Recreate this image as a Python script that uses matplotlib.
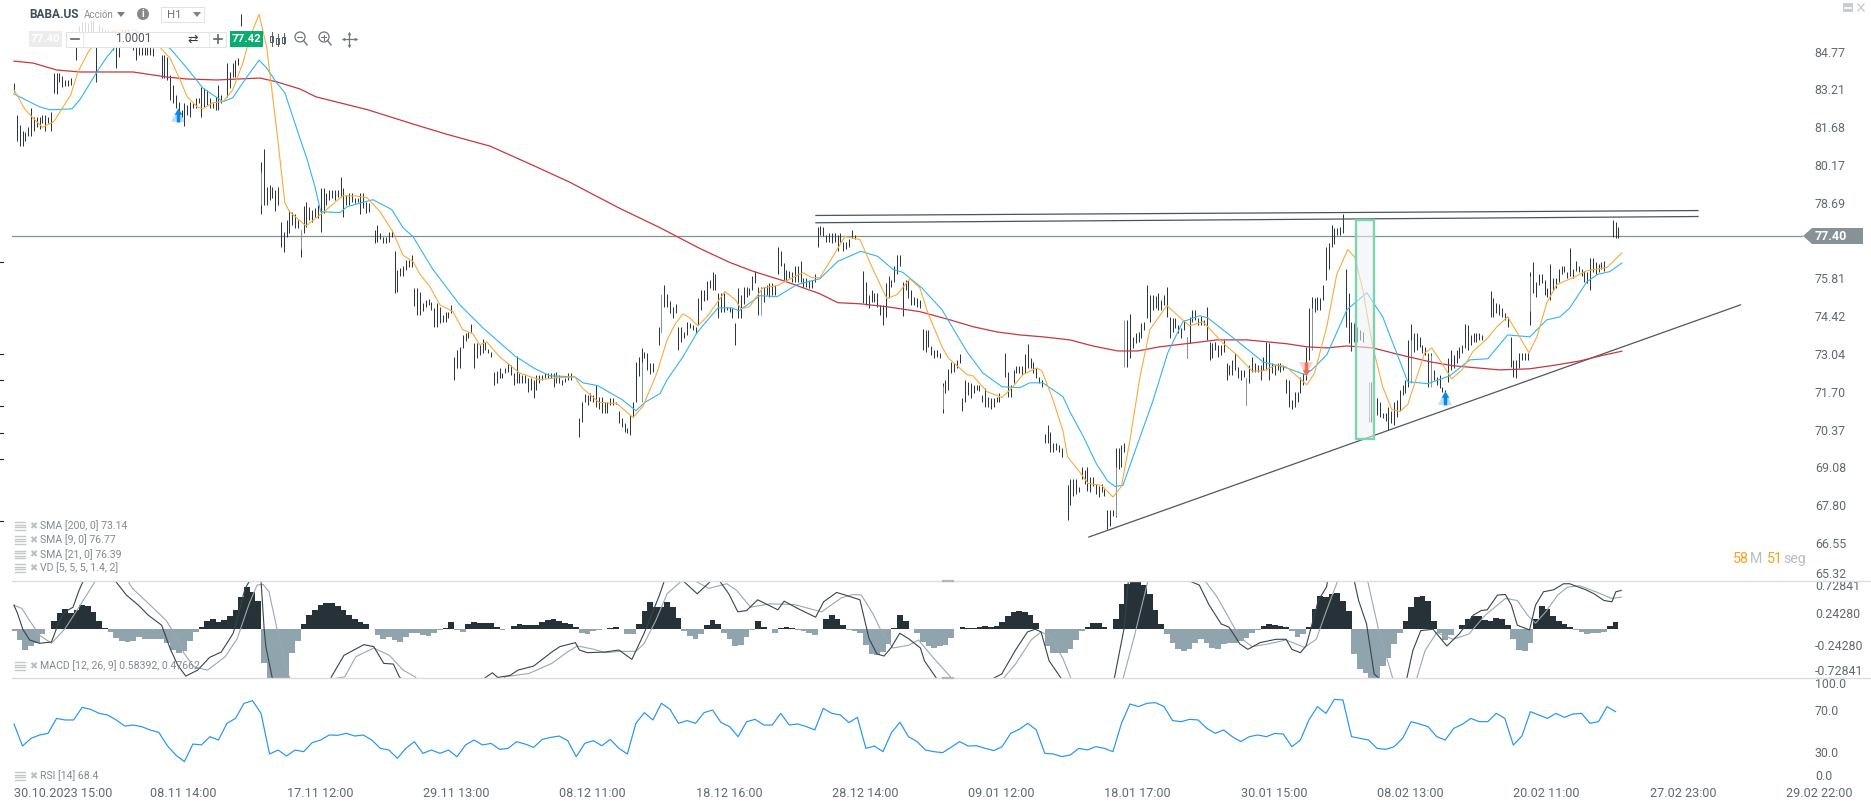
import numpy as np
import matplotlib
matplotlib.use('Agg')
import matplotlib.pyplot as plt
from matplotlib.path import Path
from matplotlib.patches import Rectangle, Polygon, Circle
from matplotlib.ticker import NullLocator

plt.rcParams['font.family'] = ['Roboto', 'DejaVu Sans']

W, H = 1871, 807

# hourly bars, high/low pairs, each block starts at the bar number in bar_starts
bars_a = [83.47,83.11, 82.18,81.11, 81.78,80.92, 81.51,80.92, 81.47,81.11, 81.67,81.31, 82.46,81.31, 82.10,81.51,
          82.10,81.67, 82.10,81.59, 82.18,81.86, 82.18,81.51, 82.10,81.86, 82.30,81.51, 83.88,83.07, 83.88,83.03,
          83.88,83.52, 83.76,83.31, 83.60,83.35, 83.60,83.35, 83.68,83.39]
bars_b = [84.97,84.42, 85.85,85.35, 86.01,85.47, 86.01,85.60, 85.97,85.55, 86.05,85.51, 86.09,85.47, 85.60,83.52,
          85.89,85.26, 85.81,85.35, 85.68,85.18, 85.68,85.01, 85.60,85.01, 85.68,84.84, 85.47,84.09, 85.47,84.55,
          85.68,84.97, 85.68,85.01, 85.68,85.18, 85.55,85.01, 85.47,84.84, 85.47,84.42, 85.05,84.63, 84.97,84.63,
          84.97,84.63, 84.97,84.63, 84.97,84.63, 84.92,84.59]
bars_c = [84.63,83.68, 84.63,83.68, 84.55,83.60, 83.80,82.79, 83.39,82.67, 82.99,82.46, 82.71,82.10, 82.38,82.10,
          82.67,81.71, 82.59,82.18, 82.71,82.10, 82.67,82.46, 82.87,82.46, 82.87,82.67, 83.31,82.10, 83.27,82.50,
          83.19,82.59, 82.87,82.46, 82.67,82.46, 82.91,82.38, 83.39,82.38, 82.99,82.67]
bars_d = [84.30,82.91, 83.93,83.27, 84.30,83.72, 84.42,83.72, 84.50,84.22, 86.35,85.85]
bars_e = [80.28,78.24, 80.80,78.62, 79.32,78.62, 79.40,78.81, 79.32,78.89, 79.20,78.39, 79.32,78.62, 77.96,77.01,
          77.58,76.79, 78.04,77.36, 78.43,77.54, 78.35,77.85, 78.24,77.73, 78.04,77.73, 77.66,76.60, 78.58,77.54,
          78.73,77.77, 78.54,78.04, 78.43,77.96, 78.50,78.15, 78.62,78.11, 79.28,77.58, 79.28,78.31, 79.09,78.62,
          79.20,78.81, 79.20,78.89, 79.20,78.81, 79.20,78.93, 79.71,78.93, 79.28,78.15, 79.00,78.62, 79.09,78.62,
          79.09,78.73, 78.89,78.69, 78.89,78.73, 79.09,78.24, 79.09,78.50, 78.73,78.31, 78.69,78.35]
bars_f = [77.66,77.13, 77.85,77.20, 77.54,77.28, 77.39,77.13, 77.39,77.13, 77.58,77.20, 77.66,77.39]
bars_g = [76.83,75.28, 76.11,75.32, 76.19,75.89, 76.26,75.89, 76.49,76.11, 76.49,76.23, 76.71,76.23, 75.46,74.80,
          75.46,74.47, 75.32,74.47, 74.91,74.61, 75.02,74.76, 75.06,74.83, 74.95,74.65, 74.72,74.03, 74.91,74.03,
          74.76,74.17, 74.47,74.21, 74.58,74.21, 74.58,74.36, 74.83,74.54, 72.94,72.12, 73.19,72.54, 73.30,72.54,
          73.73,73.26, 73.81,73.51, 73.84,73.62, 74.14,73.84, 73.44,72.54, 73.44,72.90, 73.37,73.01, 73.59,73.08,
          73.48,73.19, 73.22,73.08, 73.12,72.94, 72.40,71.94, 72.43,72.01, 72.54,72.19, 72.36,72.19, 72.54,72.36,
          72.72,72.40, 72.65,72.30, 72.36,71.94, 72.97,72.01, 72.36,72.01, 72.30,72.01, 72.30,72.01, 72.19,71.70,
          72.19,71.77, 72.12,71.49, 72.30,71.77, 72.30,72.01, 72.30,72.12, 72.36,72.19, 72.36,72.19, 72.36,72.19,
          72.36,71.87, 72.40,72.01, 72.30,72.01, 72.12,71.94, 72.19,72.05, 72.36,72.12, 72.36,72.12]
bars_h = [70.79,70.12, 71.32,70.65, 71.63,71.32, 71.59,71.24, 71.66,71.38, 71.59,71.32, 71.94,71.14, 71.52,71.10,
          71.52,70.96, 71.32,70.96, 71.32,70.96, 71.49,71.24, 71.49,71.24, 71.35,71.28, 71.00,70.61, 70.79,70.47,
          70.61,70.30, 70.43,70.26, 70.89,70.19, 71.35,70.82, 72.76,71.32, 72.94,72.26, 73.26,72.33, 73.12,72.90,
          73.08,72.47, 72.72,72.33, 72.72,72.40]
bars_i = [74.03,73.37, 75.21,73.84, 75.58,74.76, 75.24,74.76, 74.98,74.54, 74.76,74.36, 74.87,74.54, 74.03,73.19,
          74.03,73.48, 73.84,73.62, 74.21,73.73, 74.17,73.99, 74.10,73.92, 74.03,73.81, 75.09,74.10, 75.39,74.65,
          75.39,74.98, 75.73,75.02, 75.76,75.46, 76.04,75.39, 75.96,75.39, 75.28,74.36, 75.28,74.58, 75.28,74.58,
          74.76,74.65, 74.76,74.58, 74.72,74.36, 74.17,73.37, 75.46,74.36, 75.21,74.36, 75.50,74.87, 75.50,75.13,
          75.46,75.21, 75.89,75.39, 76.08,75.65, 75.50,74.47, 75.50,75.02, 75.50,74.95, 75.58,75.21, 75.65,75.13,
          75.65,75.21, 75.58,75.21, 76.98,75.96, 76.83,76.26, 76.38,75.76, 76.11,75.73, 76.08,75.84, 76.04,75.69,
          76.26,75.69, 76.26,75.69, 76.45,75.69, 75.84,75.50, 75.84,75.50, 75.76,75.46, 75.76,75.46, 75.96,75.69,
          77.77,76.98, 77.81,77.47, 77.77,77.43, 77.47,77.20, 77.51,77.20, 77.51,77.16, 77.51,77.20, 77.47,76.83,
          77.51,77.20, 77.20,76.83, 77.20,76.90, 77.28,77.01, 77.66,77.32, 77.47,77.28]
bars_j = [76.08,74.91, 75.69,74.83, 75.21,74.72, 75.39,74.95, 75.28,74.95, 75.28,74.76, 74.83,74.47, 74.83,74.10,
          75.65,74.39, 75.89,75.09, 75.76,75.50, 76.26,75.69, 76.68,75.96, 76.68,76.26, 75.69,74.43, 75.76,75.39,
          75.76,75.09, 75.39,74.83, 75.13,74.83, 75.09,74.76, 75.02,74.72, 73.95,73.19, 73.92,73.12, 73.92,73.30,
          73.33,73.01, 73.19,72.90, 73.19,72.94, 73.08,72.90, 72.01,70.93, 72.12,71.66, 72.51,71.77, 72.76,72.36,
          72.72,72.40, 72.83,72.54, 73.04,72.72, 71.49,71.00, 72.12,71.32, 72.05,71.59, 72.01,71.49, 71.94,71.66,
          71.94,71.77, 71.94,71.73, 71.59,71.32, 71.84,71.17, 71.52,71.17, 71.49,71.07, 71.49,71.17, 71.52,71.32,
          71.66,71.32]
bars_k = [73.08,72.22, 72.40,71.52, 71.94,71.52, 72.47,72.01, 72.62,72.36, 72.62,72.36, 72.62,72.30, 73.04,72.36,
          73.41,72.54, 72.90,72.54, 72.76,72.36, 72.54,72.19, 72.22,72.01, 72.12,71.87, 70.22,69.91, 70.54,69.91,
          70.29,69.58, 69.91,69.58, 69.91,69.68, 69.85,69.58, 69.75,69.41]
bars_l = [68.46,67.30, 68.69,67.80, 68.66,68.10, 68.66,68.17, 68.40,68.23, 69.07,68.66, 68.97,68.50, 69.07,68.27,
          68.76,68.23, 68.76,68.43, 68.50,68.17, 68.43,68.07, 68.50,68.23, 68.33,68.10]
bars_m = [67.65,67.00, 67.65,67.10, 67.65,67.43, 69.75,67.39, 69.75,69.00, 69.85,69.10, 69.91,69.61, 74.28,72.58,
          74.50,72.90, 73.66,73.26, 73.81,73.44, 73.84,73.48, 74.17,73.62, 74.21,73.92, 75.58,74.36, 75.21,74.21,
          75.21,74.65, 75.17,74.72, 75.28,74.65, 75.02,74.65, 75.21,74.83, 75.50,74.39, 74.39,73.62, 74.36,73.84,
          74.36,73.99, 74.10,73.81, 73.99,73.62, 74.28,73.92, 73.66,72.90, 74.39,73.44, 74.65,74.21, 74.65,74.28,
          74.36,74.10, 74.43,74.10, 74.28,74.10, 74.76,73.55, 73.48,72.83, 73.44,72.90, 73.48,73.19, 73.37,72.94,
          73.37,73.01, 73.55,73.12]
bars_n = [72.72,72.12, 72.65,72.30, 72.83,72.30, 73.08,72.47, 72.58,72.19, 72.47,72.12, 72.47,72.22, 72.19,71.24,
          72.65,72.01, 72.94,72.40, 72.72,72.40, 72.65,72.40, 72.65,72.12, 72.94,72.47, 73.48,72.47, 73.44,72.12,
          72.72,72.36, 72.65,72.30, 72.72,72.47, 72.72,72.40, 72.65,72.47, 72.15,71.66, 72.12,71.14, 71.42,71.07,
          71.70,71.14, 71.70,71.35, 72.22,71.66, 72.36,71.94, 73.30,72.12, 74.72,72.83, 75.13,73.92, 75.09,74.58,
          75.13,74.65, 75.09,74.65, 75.58,75.02, 76.98,75.76, 77.13,76.15, 77.85,77.01, 77.73,77.09, 77.73,77.47,
          77.77,77.47, 78.27,77.54, 76.15,74.03, 75.28,73.44, 74.21,73.15, 74.17,73.48, 74.03,73.48, 73.92,73.55,
          73.84,73.48]
bars_o = [72.05,70.65, 71.77,70.89, 71.49,70.89, 71.35,70.82, 70.96,70.79, 70.93,70.68, 71.17,70.36, 71.00,70.61,
          71.35,70.54, 71.42,70.82, 71.77,71.00, 71.94,71.59, 72.12,71.66, 73.55,71.87, 74.14,72.65, 73.81,73.12,
          73.81,73.19, 73.66,73.30, 73.37,73.08, 73.30,73.01, 73.08,71.87, 73.08,72.12, 72.47,72.12, 72.22,71.94,
          72.30,71.84, 71.87,71.70, 71.77,71.49, 72.90,72.05, 73.19,72.47, 73.01,72.54, 73.19,72.72, 73.30,72.90,
          73.37,73.08, 74.14,73.26, 74.10,73.19, 73.73,73.37, 73.81,73.48, 73.81,73.48, 73.81,73.55, 73.73,73.55]
bars_p = [75.36,74.39, 75.09,74.39, 74.91,74.54, 74.87,74.47, 74.72,74.39, 74.54,74.28, 74.39,74.03, 73.66,72.58,
          72.83,72.22, 72.83,72.19, 73.08,72.54, 73.08,72.83, 73.08,72.83, 73.08,72.83]
bars_q = [76.04,74.10, 76.41,75.28, 75.69,75.13, 75.96,75.58, 75.96,75.65, 75.76,75.21, 75.46,75.13, 76.34,75.02,
          75.84,75.39, 75.84,75.46, 76.15,75.69, 76.26,75.96, 76.26,76.04, 76.04,75.84, 76.94,75.89, 76.15,75.84,
          76.45,76.08, 76.26,76.04, 76.15,75.89, 76.08,75.69, 76.04,75.65, 76.57,75.39, 76.57,76.04, 76.41,75.96,
          76.34,76.04, 76.41,76.15, 76.45,76.08]
bars_r = [78.04,77.36, 77.93,77.32, 77.77,77.32]
bar_blocks = [bars_a, bars_b, bars_c, bars_d, bars_e, bars_f, bars_g, bars_h, bars_i,
              bars_j, bars_k, bars_l, bars_m, bars_n, bars_o, bars_p, bars_q, bars_r]
bar_starts = [0, 22, 52, 75, 87, 127, 134, 199, 227, 299, 349, 371, 385, 427, 478, 520, 534, 563]

# bars with pale wicks
wick_bar = [87, 101, 221, 228, 263, 327, 388, 391, 413, 434, 457, 477, 492, 499, 534]
wick_hi = [79.90, 77.66, 72.76, 75.21, 75.50, 71.90, 69.10, 74.28, 73.66, 72.19, 74.72, 72.05, 73.55, 73.00, 75.90]
wick_lo = [78.60, 76.90, 71.32, 73.84, 74.47, 71.10, 67.43, 72.58, 72.90, 71.24, 73.20, 70.65, 72.00, 71.87, 74.60]

sma9_bar = [0,4,5.6,10,12,14,16,20,22.5,26,28.5,32,37.3,42.5,48,51.4,55,58.5,61,64.5,66.5,70,73.6,77,80.6,83,86.3,89,
            92.6,95.4,97,102.8,108.8,115.8,120,124.3,128.9,133.5,137,140.5,143,146.5,150,154.6,158,161.6,164,166.5,
            171,178,185,191,197.5,200,206,212.3,218,221.5,226.4,230,232.7,235.5,238,240.8,244,250.4,254,256,259,263.7,
            268.7,271.5,277.8,281,283.8,288.4,292.6,297.9,302.5,307.4,311,315.5,319,321.8,326.8,329,335.6,337.7,342.6,
            347.9,351.8,355.3,360.2,362,365.5,369.4,371,375.4,378.2,383,387,390,393,396.5,400,406,412.3,414,418.7,425.7,
            430.6,436,439.8,444.7,448,455.3,458,462.3,465.8,469.7,472.2,475,478.5,482,485.2,488,490.8,493.3,496.8,499.3,
            503.2,506.3,509.9,513.7,519,522.2,526,529.2,533.5,536.3,539.8,543.3,549,553.9,561,566.2]
sma9_val = [83.19,82.38,82.18,81.67,81.78,81.90,82.26,82.99,83.93,84.72,85.18,85.55,85.68,85.68,85.35,84.96,84.50,83.60,
            82.91,82.50,82.42,82.67,82.71,83.19,84.30,85.35,86.35,84.96,81.47,78.69,78.35,77.80,78.31,78.96,78.96,78.89,
            78.35,77.55,76.68,76.45,75.96,75.50,74.83,74.58,73.92,73.77,73.37,73.48,72.94,72.36,72.12,72.19,72.22,71.84,
            71.32,71.28,70.79,71.18,72.36,73.55,74.10,74.50,74.35,74.06,74.39,75.32,75.02,74.69,74.76,75.46,75.54,75.69,
            76.03,75.84,75.84,76.64,77.39,77.28,76.15,75.06,75.21,75.80,75.46,74.54,73.30,72.90,72.30,72.26,71.70,71.49,
            71.87,72.30,72.54,72.43,71.52,70.33,69.44,68.90,68.53,68.46,68.07,68.43,70.02,72.22,73.92,74.80,74.21,74.06,
            74.21,73.44,73.01,72.43,72.43,72.65,72.58,71.94,72.36,74.03,75.96,76.90,76.60,75.39,73.30,71.87,71.07,71.00,
            71.24,72.01,73.08,73.26,72.65,72.15,72.47,73.12,73.62,74.03,74.39,73.84,73.08,73.66,74.91,75.58,75.84,76.10,
            76.22,76.77]

sma21_bar = [0,4,9,12.7,20.4,23.2,29.2,32.7,35.6,40.8,47.9,54.9,60.9,66.5,73.6,77,82,86.3,89,92.6,95.4,100,103.2,106,108,
             114.8,117.3,126.4,133,137,140.5,147.5,157,165.1,176.4,183.5,188.7,197.5,200.4,205.6,209.2,214.1,219,222.2,
             227.5,230,235.6,240.5,247.9,252.8,255.3,262.7,268.7,275.7,283.8,290.1,298.2,304.2,309.5,313,319.7,326.8,
             335.6,341.2,347.9,354.2,357.7,362.3,369.4,371.8,376.4,381.3,385.2,387.7,390.5,395.8,401,406.3,411.6,417.6,
             420.4,428.9,439.8,448.2,454.6,457,462.3,469.4,476.4,482,486.9,490.8,497.9,505.6,512.7,519,526,533.8,539.8,
             544.4,547.9,553.9,557.7,562,566.2]
sma21_val = [83.03,82.79,82.50,82.38,82.42,82.79,83.93,84.55,84.97,85.35,85.26,84.92,84.09,83.27,82.71,82.87,83.72,84.42,
             84.09,83.47,83.07,81.47,80.40,79.31,78.35,78.31,78.54,78.81,78.43,77.73,77.39,76.15,74.83,73.99,72.97,72.51,
             72.26,72.22,72.01,71.91,71.70,71.42,71.03,71.32,71.63,72.12,72.94,73.81,74.72,74.72,74.61,75.17,75.13,75.58,
             75.80,76.45,76.83,76.64,76.15,76.04,75.46,74.65,73.12,72.36,71.87,71.84,72.01,72.01,71.52,71.00,70.16,69.17,
             68.60,68.43,68.46,69.91,71.35,73.08,74.21,74.43,74.35,73.66,72.76,72.54,72.30,72.47,73.01,74.65,75.28,74.39,
             73.08,72.05,71.98,72.26,72.83,72.87,73.73,73.66,74.28,74.39,74.72,75.69,75.96,76.07,76.39]

sma200_bar = [0,6.7,15.1,23.2,41.9,53.9,60.9,71.5,86.6,92.6,100.7,106.3,124.6,141.2,152.5,167.6,181.7,195.4,213.4,227.5,
              241.5,252.1,260.2,270.8,283.8,290.1,297.9,307.4,319,329.6,337.7,346.1,354.2,362.3,371.8,379.9,388.7,395.8,
              403.5,415.1,423.6,434.2,448.2,455.3,462.3,469.4,478.5,486.9,498.6,506.7,518.7,523.2,533.8,543.3,551.4,558.5,566.2]
sma200_val = [84.38,84.30,84.01,83.93,83.93,83.72,83.64,83.60,83.68,83.52,83.23,82.91,82.38,81.78,81.39,80.92,80.21,79.51,
              78.47,77.73,76.94,76.41,76.08,75.73,75.24,74.91,74.87,74.76,74.58,74.28,74.03,73.84,73.73,73.66,73.55,73.33,
              73.15,73.15,73.30,73.44,73.55,73.55,73.41,73.30,73.26,73.33,73.26,73.04,72.76,72.62,72.51,72.47,72.51,72.65,
              72.79,72.97,73.14]

# macd histogram, one value every 2 bars
hist_a = [-.025,-.16,-.31,-.25,-.21,-.075,0,.125,.25,.30,.25,.29,.36,.35,.26,.125,.015,-.04,-.125,-.18,-.19,-.18,-.11,-.15,
          -.15,-.15,-.14,-.21,-.315,-.35,-.325,-.175,-.04,.04,.125,.15,.11,.14,.20,.29,.475,.625,.55,.425,-.50,-.725,-.725,
          -.725,-.725,-.35,-.175,.075,.21,.29,.36,.39,.385,.35,.29,.21,.16,.11,.075,.01,-.09,-.14,-.11,-.16,-.185,-.11,-.05,
          -.05,-.09,-.10,-.05,-.01,.025,.11,-.015,-.04,.075,.11,.09,.10,.09,.04,-.01,0,.05,.085,.07,.06,.06,.11,.14,.15,.125,
          .10,.08,.04,-.06,-.07,-.03,-.01,0,.025,.04]
hist_b = [0,-.075,-.075,.075,.275,.40,.325,.325,.41,.325,.175,-.025,-.10,-.15,-.075,.06,.14,.075,-.06,-.15,-.25,-.24,-.11,
          -.015,.125,.04,0,-.05,.025,.04,.015,-.01,-.025,-.06,-.09,0,.16,.21,.16,.06,-.01,-.025,-.05,-.24,-.365,-.38,-.34,
          -.225,.025,.21,.125,.01,-.05,-.19,-.25,-.275,-.25,-.24,-.125,.01,.04,.025,.025,.035,.045,.04,.045,.11,.20,.26,.275,
          .265,.21,.09,0,-.25,-.36,-.36,-.35,-.30,-.16,-.025,.04,.09,.09,.04,.005,.15,.375,.675,.725,.725,.66,.525,.29,.075,
          -.075,-.21,-.30,-.33,-.30,-.20,-.15,-.20,-.275,-.29,-.225,-.20,-.20]
hist_c = [-.175,-.125,-.06,-.015,.05,.075,.06,.045,.035,-.025,-.11,-.075,.04,.30,.50,.475,.525,.54,.425,.275,-.375,-.60,-.65,
          -.725,-.725,-.55,-.425,-.225,-.05,.125,.325,.475,.50,.425,.125,-.05,-.16,-.09,0,.06,.16,.20,.20,.14,.125,.165,.16,
          .06,-.15,-.31,-.325,-.20,.15,.35,.31,.20,.125,.075,.04,-.015,-.04,-.075,-.06,-.06,-.04,.05,.11]
hist_starts = [0, 107, 216]

macd_bar = [0,1.3,3.1,5.5,9,13.2,16,18,20.8,22.9,25,30,32.7,35.7,39.6,43.8,47.3,52,55,57.7,60.5,64.7,68.9,73,77.2,81.4,82.8,
            84.9,87,88.1,88.7,91.2,101,110.7,111.8,116.2,123.2,126.7,130.2,133.6,135.7,138.5,162,166.4,168.5,170.3,174.7,
            177.5,183,189.4,192.2,197.7,199.1,201.9,208.2,213,217.6,221.8,227.3,229,232,235.7,240.6,245.4,248.5,251.7,254.9,
            258,261.9,269,271.2,276,282.3,285.1,289.7,292.8,297.9,301.1,303.9,306.4,308.8,311.9,315,319.2,320.6,324.8,331.8,
            339.4,345,347.8,352.7,356.9,359.6,361.7,364.5,368.7,377.7,387.5,391,392.4,402.8,414,417.4,420.9,425.1,427.9,
            431.7,434.5,438.8,444.4,448,450,453,455,456.5,459.3,462.2,462.6,472,473.5,476.3,479,480.6,485.5,490.5,492.6,
            495.4,499.7,504.6,508.9,513.9,516.7,518.8,522.4,525.2,527.3,529.4,533.7,535.8,538.6,542.2,545.7,547.8,553.5,
            556.4,559.9,562.7,564.1,566]
macd_val = [.36,.23,0,-.16,-.21,-.19,.13,.26,.33,.58,.78,1.2,1.2,.72,.51,.36,.21,.06,-.29,-.54,-.70,-.61,-.42,-.34,-.06,.61,.71,
            .78,.72,0,-.26,-.78,-1.3,-.85,-.71,-.39,-.23,-.26,-.51,-.52,-.71,-.85,-.85,-.71,-.65,-.72,-.69,-.61,-.55,-.34,-.26,
            -.20,-.31,-.35,-.34,-.31,-.45,-.07,.51,.72,.90,.72,.53,.72,.72,.53,.26,.28,.44,.29,.42,.31,.18,.41,.55,.51,.44,-.14,
            -.37,-.40,-.28,-.06,-.14,-.28,-.47,-.73,-1.05,-1.0,-.73,-.67,-.31,-.04,0,-.04,-.47,-.73,-1.05,-.73,.03,.72,1.1,.72,
            .66,.36,.08,.03,-.22,-.30,-.20,-.15,-.15,-.30,-.35,-.25,-.02,.43,.63,.72,.72,.43,.08,-.67,-.73,-.97,-.73,-.32,-.02,
            0,-.25,-.07,.21,.28,.29,.51,.52,.36,.06,-.01,.36,.56,.59,.68,.68,.59,.53,.43,.41,.56,.58]
signal_bar = [0,2.8,5.5,9,13.2,18,22.9,28.5,30,38.2,41.7,48,53.6,56.4,59.9,63.3,68.2,74.4,78.6,82.8,85.6,87.7,89.8,92.6,96.4,
              98.5,116.5,120.4,126.7,132.2,137,141.2,146,168,173,181.4,189.4,194.9,198.4,204.3,208.2,213.4,219,221.8,226,230,235,
              239.9,244.7,251,254.5,259.4,266.3,274.7,284.4,291.4,295.6,298.4,302.5,305.3,309.5,315,318.5,323.4,330.4,338.7,
              348.5,352.7,358.2,361.7,365.2,369.4,372.2,380.5,390.6,394.5,399.3,408.4,419.5,423.7,428.6,431.7,436,441.6,448,
              454.4,458.6,462.2,466.1,471.4,476.7,480.6,485.5,488.4,494,496.9,501,506.8,512.4,518.1,525.2,529.4,533,535.8,539.4,
              543.6,547.1,551.4,557,562.7,566]
signal_val = [.36,.31,.13,-.09,-.21,.01,.33,.71,.85,.85,.61,.36,.13,-.06,-.36,-.56,-.61,-.41,-.14,.38,.66,.67,.56,.01,-.66,
              -.85,-.71,-.41,-.28,-.39,-.61,-.71,-.95,-.95,-.71,-.66,-.51,-.34,-.25,-.30,-.35,-.33,-.33,-.22,.13,.53,.72,.72,.61,.68,.58,
              .33,.38,.37,.26,.47,.52,.51,.23,-.02,-.28,-.24,-.16,-.41,-.74,-1.05,-.73,-.52,-.16,-.04,-.11,-.44,-.73,-1.05,-.73,
              -.11,.72,1.1,.72,.48,.11,-.12,-.26,-.22,-.16,-.27,-.15,.28,.72,1.03,.72,-.02,-.73,-.92,-.73,-.32,-.05,-.15,-.07,.21,
              .46,.43,.21,.09,.26,.51,.63,.65,.56,.46,.48]

# rsi, one value every 3 bars
rsi_a = [56.7,35.7,43,46.2,47.8,62,60.5,60.5,72.5,70.6,66.8,65.2,60.5,54.7,55.7,54.1,50.9,48.7,36,27.1,20.8,37.6,36.7,44.6,41.4,
         57.3,62,76.3,78.9,66.8,28.1,31.9,26.2,31.9,30.3,38.9,41.4,46.2,45.9,47.8,45.2,46.2,41.4,33.5,31.9,24,33.5,39.8,28.7,
         31.9,28.7,31.9,25.5,36.7,41.4,36.7,38.2,32.5,33.5,39.8,37.6,34.4,42,43.9,45.2,40.8,25.5,38.2,40.8,36,42,33.5]
rsi_b = [28.1,57.3,67.5,60.5,76.4,70.7,57.3,59.9,57.3,67.5,70,58,54.2,44.6,58.9,61.1,55.7,55.7,66.8,55.7,56.7,54.2,51,71.6,66.8,
         65.3,58,63,33.5,35.7,30.3,48.4,58.3,44.6,39.9,31.9,30.3,29.4,34.5,39.9,35.7,36,33.5,31.3,35.1,47.8,51.6,57.3,51,28.7,
         28.1,25.6,27.2,33.5,31.9,35.1,33.5,30.3,57.3,75.7,73.2,76.4,77,73.2,59.9,58.9,61.1,60.5,52.6,47.8,51,44.6,39.9]
rsi_c = [44.6,46.2,44.6,47.7,47.1,35,41.4,60.5,73.2,66.8,80.1,79.5,44.6,43,41.4,33.5,32.5,35,43,58.9,56.6,54.1,44.6,41.4,52.5,56.3,
         62,58.9,58.9,66.8,62,36.6,45.2,68.4,65.2,62,66.8,63,66.2,66.8,57.3,58.9,73.2,68.4]

price_ticks = [84.77, 83.21, 81.68, 80.17, 78.69, 75.81, 74.42, 73.04, 71.70, 70.37, 69.08, 67.80, 66.55, 65.32]
macd_ticks = [0.72841, 0.24280, -0.24280, -0.72841]
macd_labels = ['0.72841', '0.24280', '-0.24280', '-0.72841']
rsi_ticks = [100, 70, 30, 0]
rsi_labels = ['100.0', '70.0', '30.0', '0.0']
time_labels = ['30.10.2023 15:00', '08.11 14:00', '17.11 12:00', '29.11 13:00', '08.12 11:00', '18.12 16:00', '28.12 14:00',
               '09.01 12:00', '18.01 17:00', '30.01 15:00', '08.02 13:00', '20.02 11:00', '27.02 23:00', '29.02 22:00']

last_price = 77.40
resist_bar = [282.4, 593]
resist_top = [78.20, 78.39]
resist_low = [77.92, 78.16]
support_bar = [378.5, 608]
support_val = [66.74, 74.83]

DARK = '#263238'
GREY = '#90a4ae'
TICK = '#5f6b70'
LEG = '#82898d'


def panel(top, bottom):
    a = fig.add_axes([12/W, 1-bottom/H, (1803-12)/W, (bottom-top)/H])
    a.set_xlim(-0.7, 630)
    for s in a.spines.values():
        s.set_visible(False)
    a.yaxis.tick_right()
    a.tick_params(axis='both', length=0, labelsize=8.9, labelcolor=TICK)
    a.tick_params(axis='y', pad=8.5)
    a.set_xticks([])
    return a


fig = plt.figure(figsize=(W/100, H/100), dpi=100, facecolor='white')

# price panel
ax = panel(0, 580.7)
ax.set_yscale('log')
ax.set_ylim(65.32, 86.96)
ax.yaxis.set_minor_locator(NullLocator())
ax.set_yticks(price_ticks)
ax.set_yticklabels(['%.2f' % p for p in price_ticks])
ax.yaxis.set_minor_formatter(matplotlib.ticker.NullFormatter())
ax.get_yticklabels()[-1].set_va('bottom')

for start, block in zip(bar_starts, bar_blocks):
    x = start + np.arange(len(block)//2)
    ax.vlines(x, block[1::2], block[0::2], color=DARK, lw=0.7, zorder=2)
ax.vlines(wick_bar, wick_lo, wick_hi, color='#8b9599', lw=0.7, zorder=2.1)

ax.axhline(last_price, color='#849094', lw=0.9, zorder=1.5)
ax.plot(resist_bar, resist_top, color='#4b5559', lw=0.9, zorder=3)
ax.plot(resist_bar, resist_low, color='#4b5559', lw=0.9, zorder=3)
ax.plot(support_bar, support_val, color='#50585c', lw=0.9, zorder=3)
ax.plot(sma200_bar, sma200_val, color='#c5383f', lw=0.9, zorder=4)
ax.plot(sma21_bar, sma21_val, color='#33b4f4', lw=0.8, zorder=5)
ax.plot(sma9_bar, sma9_val, color='#f9ab3e', lw=0.8, zorder=6)

ax.add_patch(Rectangle((472.5, 70.05), 6.3, 78.04-70.05, facecolor='#eef2f8', edgecolor='none', alpha=0.55, zorder=7))
ax.add_patch(Rectangle((472.5, 70.05), 6.3, 78.04-70.05, facecolor='none', edgecolor='#7dd3b0', lw=1.7, zorder=7.1))

arrow = Path([(0, 1), (-0.55, 0.1), (-0.25, 0.1), (-0.25, -1), (0.25, -1), (0.25, 0.1), (0.55, 0.1), (0, 1)], closed=True)
arrow_down = Path(arrow.vertices * np.array([1, -1]), closed=True)
for b, p in [(57.7, 82.16), (503.9, 71.47)]:
    ax.plot([b], [p], marker='^', ms=10, color='#2196f3', alpha=0.3, mew=0, zorder=8)
    ax.plot([b], [p], marker=arrow, ms=10, color='#0a84ef', mew=0, zorder=8.1)
ax.plot([455], [72.49], marker='v', ms=10, color='#ef6c57', alpha=0.3, mew=0, zorder=8)
ax.plot([455], [72.49], marker=arrow_down, ms=10, color='#ef6c57', mew=0, zorder=8.1)

# macd panel
ax2 = panel(580.5, 678)
ax2.set_ylim(-0.72841, 0.72841)
ax2.set_yticks(macd_ticks)
ax2.set_yticklabels(macd_labels)
ax2.get_yticklabels()[0].set_va('top')
ax2.get_yticklabels()[-1].set_va('bottom')
for start, block in zip(hist_starts, [hist_a, hist_b, hist_c]):
    v = np.array(block)
    x = 2*(start + np.arange(len(v)))
    ax2.bar(x, v, width=2.02, color=np.where(v >= 0, DARK, GREY).tolist(), lw=0, zorder=2)
ax2.plot(signal_bar, signal_val, color='#9aa8af', lw=0.8, zorder=3)
ax2.plot(macd_bar, macd_val, color='#37444b', lw=0.8, zorder=4)

# rsi panel
ax3 = panel(678.5, 783.5)
ax3.set_ylim(0, 100)
ax3.set_yticks(rsi_ticks)
ax3.set_yticklabels(rsi_labels)
ax3.get_yticklabels()[0].set_va('top')
ax3.get_yticklabels()[-1].set_va('bottom')
rsi = rsi_a + rsi_b + rsi_c
ax3.plot(3*np.arange(len(rsi)), rsi, color='#2196f3', lw=0.85)
ax3.set_xticks(48*np.arange(len(time_labels)))
ax3.set_xticklabels(time_labels, ha='left')
ax3.tick_params(axis='x', pad=2.5, labelsize=9.1)

# overlay for the platform widgets, in screen pixels
ui = fig.add_axes([0, 0, 1, 1], facecolor='none')
ui.set_xlim(0, W)
ui.set_ylim(H, 0)
ui.axis('off')

for y in [580.5, 678]:
    ui.plot([12, W], [y, y], color='#dcdcdc', lw=1.0)
    ui.plot([943, 953], [y, y], color='#b5b5b5', lw=1.6)
for y in [262, 354, 380, 406, 433, 459, 521]:
    ui.plot([0, 3], [y, y], color='#222222', lw=0.8)

# last price flag
ui.add_patch(Polygon([(1803, 236), (1812, 228), (1863, 228), (1863, 244), (1812, 244)], facecolor='#889296', edgecolor='none'))
ui.text(1815, 236.5, '77.40', color='white', fontsize=9, fontweight='bold', ha='left', va='center')

# timer
for tx, s, c in [(1733, '58', '#f7a21b'), (1749.5, 'M', '#b9bec1'), (1767, '51', '#f7a21b'), (1783, 'seg', '#b9bec1')]:
    ui.text(tx, 559, s, color=c, fontsize=10.2, ha='left', va='center')

# window icons
ui.add_patch(Rectangle((1843, 3), 10, 9, facecolor='#c8cdd0', edgecolor='none'))
ui.plot([1845, 1851], [7.5, 7.5], color='white', lw=1.2)
ui.plot([1858, 1864], [4, 11], color='#c8cdd0', lw=1)
ui.plot([1858, 1864], [11, 4], color='#c8cdd0', lw=1)

# top bar
ui.add_patch(Rectangle((20, 0), 215, 47, facecolor='white', edgecolor='none', alpha=0.82))
ui.text(29, 15, 'BABA.US', color='#3f4d56', fontsize=8.6, fontweight='bold', ha='left', va='center')
ui.text(84, 15.5, 'Acción', color='#8a9094', fontsize=7.0, ha='left', va='center')
ui.add_patch(Polygon([(117, 12), (125, 12), (121, 17)], facecolor='#777f84', edgecolor='none'))
ui.add_patch(Circle((143, 14), 6, facecolor='#83898d', edgecolor='none'))
ui.text(143, 14, 'i', color='white', fontsize=7.5, fontweight='bold', ha='center', va='center')
ui.add_patch(Rectangle((161.5, 6.5), 43, 15, facecolor='white', edgecolor='#e3e3e3', lw=0.8))
ui.text(167, 14.5, 'H1', color='#6b7276', fontsize=8.2, ha='left', va='center')
ui.add_patch(Polygon([(193, 12), (201, 12), (197, 17)], facecolor='#7d8589', edgecolor='none'))

ui.add_patch(Rectangle((29, 31), 33, 15.5, facecolor='#ececec', edgecolor='none'))
ui.text(45.5, 38.8, '77.40', color='white', fontsize=8.2, fontweight='bold', ha='center', va='center')
ui.add_patch(Rectangle((66.5, 31.5), 160, 15, facecolor='white', edgecolor='#e3e3e3', lw=0.8))
ui.plot([83, 83], [32, 46], color='#e8e8e8', lw=0.8)
ui.plot([209, 209], [32, 46], color='#e8e8e8', lw=0.8)
ui.plot([71, 79], [39, 39], color='#5c666b', lw=1.2)
ui.text(133, 38.8, '1.0001', color='#4d565b', fontsize=8.6, ha='center', va='center')
ui.text(193, 38.8, '\u21c4', color='#333b40', fontsize=9, family='DejaVu Sans', ha='center', va='center')
ui.plot([214, 222], [39, 39], color='#5c666b', lw=1.2)
ui.plot([218, 218], [35, 43], color='#5c666b', lw=1.2)
ui.add_patch(Rectangle((230, 31), 33, 15.5, facecolor='#06ae72', edgecolor='none'))
ui.text(246.5, 38.8, '77.42', color='white', fontsize=8.2, fontweight='bold', ha='center', va='center')

# candle, zoom and move icons
for cx, y0, y1 in [(272, 32, 46), (278, 34, 46), (284, 33, 44)]:
    ui.plot([cx, cx], [y0, y1], color='#4e5a60', lw=0.7)
    ui.add_patch(Rectangle((cx-1.5, y0+4), 3, 6, facecolor='white', edgecolor='#4e5a60', lw=0.7))
for cx, sign in [(300, '-'), (324, '+')]:
    ui.add_patch(Circle((cx, 37), 5, facecolor='none', edgecolor='#6d777c', lw=0.9))
    ui.plot([cx+3.5, cx+7], [40.5, 45], color='#6d777c', lw=1.0)
    ui.plot([cx-2.5, cx+2.5], [37, 37], color='#6d777c', lw=0.8)
    if sign == '+':
        ui.plot([cx, cx], [34.5, 39.5], color='#6d777c', lw=0.8)
ui.plot([343, 356], [39, 39], color='#6d777c', lw=0.9)
ui.plot([349.5, 349.5], [33, 46], color='#6d777c', lw=0.9)
for px, py, mk in [(343, 39, '<'), (356, 39, '>'), (349.5, 33, '^'), (349.5, 46, 'v')]:
    ui.plot([px], [py], marker=mk, ms=2.5, color='#6d777c', mew=0)

# indicator legend
legend_y = [526, 540, 554.5, 568, 666, 776]
legend_txt = ['SMA [200, 0] 73.14', 'SMA [9, 0] 76.77', 'SMA [21, 0] 76.39', 'VD [5, 5, 5, 1.4, 2]',
              'MACD [12, 26, 9] 0.58392, 0.47662', 'RSI [14] 68.4']
for y, s in zip(legend_y, legend_txt):
    for dy in [-4, -1.5, 1, 3.5]:
        ui.plot([15, 25], [y+dy, y+dy], color='#c4c8ca', lw=1.0)
    ui.text(33, y, '\u2716', color='#bcc0c2', fontsize=7, family='DejaVu Sans', ha='center', va='center')
    ui.text(40, y, s, color=LEG, fontsize=7.6, ha='left', va='center')

fig.savefig('out.png', dpi=100, facecolor='white')
